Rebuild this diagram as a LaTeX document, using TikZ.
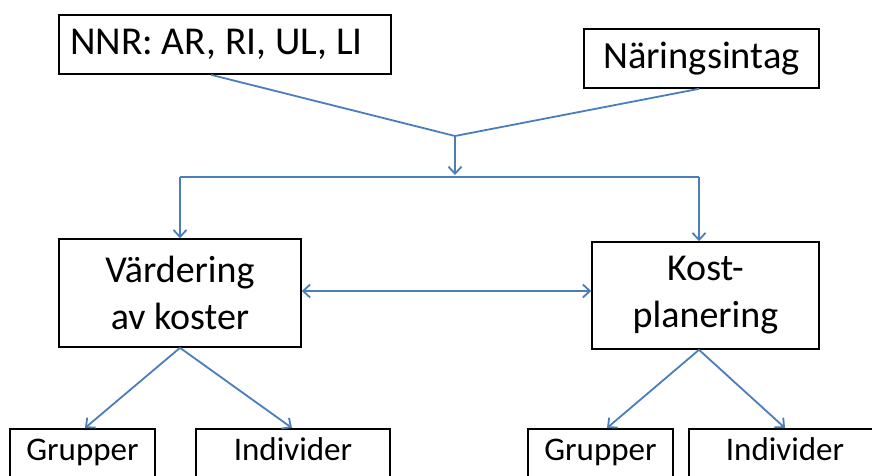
\documentclass[tikz,border=0pt]{standalone}
\usepackage{fontspec}
\setmainfont{Carlito}
\usetikzlibrary{arrows.meta}
\definecolor{linkblue}{RGB}{74,126,187}
\tikzset{
  box/.style={draw=black, line width=1.6pt, rectangle, inner sep=0pt, fill=white},
  bigtxt/.style={font=\fontsize{38.5}{47}\selectfont},
  midtxt/.style={font=\fontsize{38}{47}\selectfont, align=center},
  smalltxt/.style={font=\fontsize{33}{40}\selectfont, text height=0.75em, text depth=0.25em},
  link/.style={draw=linkblue, line width=1.8pt},
  barb/.tip={Straight Barb[length=7pt,width=13pt,line width=1.8pt]},
  tip/.style={-barb},
}
\begin{document}
\begin{tikzpicture}[x=1pt,y=-1pt]
\useasboundingbox (0,0) rectangle (872,475);
\clip (0,0) rectangle (872,475);
% nodes
\node[box, bigtxt, minimum width=332pt, minimum height=59pt] (nnr) at (225,44.5) {\fontsize{39.5}{47}\selectfont\frenchspacing\makebox[310pt][l]{NNR: AR, RI, UL, LI}};
\node[box, bigtxt, minimum width=235pt, minimum height=59pt] (nar) at (701.5,58.5) {Näringsintag};
\node[box, midtxt, minimum width=242pt, minimum height=108pt] (var) at (180,293) {Värdering\\av koster};
\node[box, midtxt, minimum width=227pt, minimum height=107pt] (kost) at (705.5,295.5) {Kost-\\planering};
\node[box, smalltxt, minimum width=145pt, minimum height=58pt, anchor=north] (g1) at (82.5,428) {Grupper};
\node[box, smalltxt, minimum width=194pt, minimum height=58pt, anchor=north] (i1) at (293,428) {Individer};
\node[box, smalltxt, minimum width=145pt, minimum height=58pt, anchor=north] (g2) at (600.5,428) {Grupper};
\node[box, smalltxt, minimum width=192pt, minimum height=58pt, anchor=north] (i2) at (785,428) {Individer};
% junctions
\coordinate (j) at (455,136);
\coordinate (h) at (455,177);
\coordinate (hl) at (180,177);
\coordinate (hr) at (699,177);
% connectors
\draw[link] ([xshift=-14pt]nnr.south) -- (j) -- ([xshift=-2.5pt]nar.south);
\draw[link, tip] (j) -- ([yshift=2pt]h);
\draw[link] (hl) -- (hr);
\draw[link, tip] (hl) -- (var.north);
\draw[link, tip] (hr) -- ([xshift=-6.5pt]kost.north);
\draw[link, barb-barb] ([yshift=2pt]var.east) -- ([yshift=2pt]var.east -| kost.west);
\draw[link, tip] (var.south) -- ([xshift=2.5pt]g1.north);
\draw[link, tip] (var.south) -- ([xshift=-1pt]i1.north);
\draw[link, tip] ([xshift=-6.5pt]kost.south) -- ([xshift=6.5pt]g2.north);
\draw[link, tip] ([xshift=-6.5pt]kost.south) -- (i2.north);
\end{tikzpicture}
\end{document}
